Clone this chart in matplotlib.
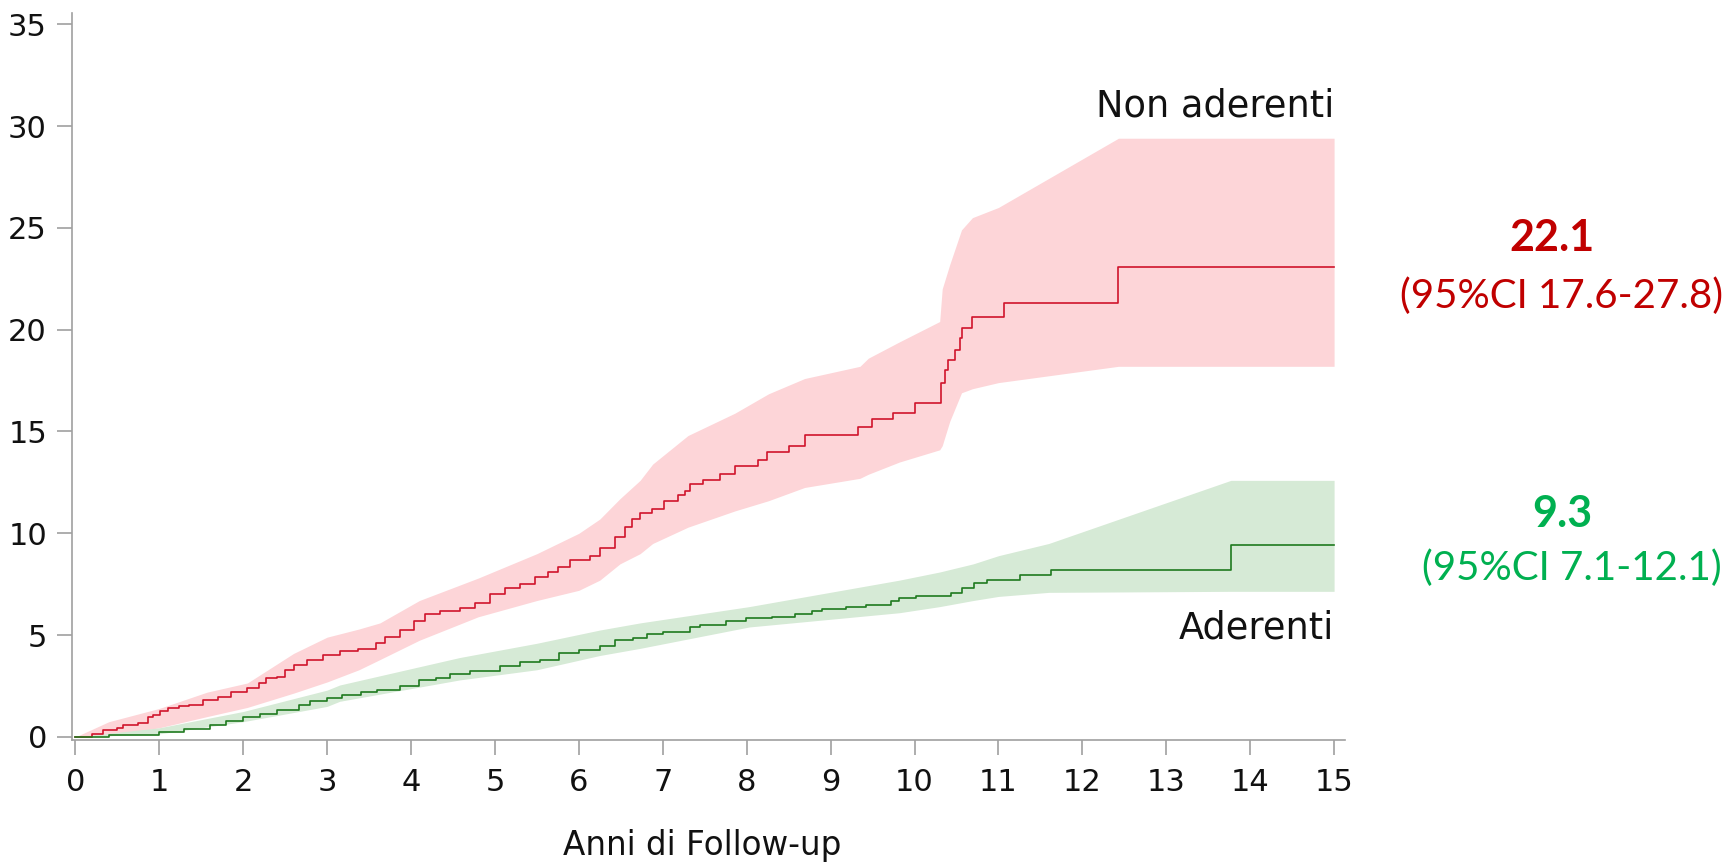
import numpy as np
import matplotlib.pyplot as plt

# Non aderenti: step curve (time, cumulative %)
red_t = [0, 0.2, 0.33, 0.5, 0.57, 0.75, 0.86, 0.93, 1.01, 1.1, 1.23, 1.35, 1.52, 1.7,
         1.85, 2.04, 2.19, 2.27, 2.4, 2.5, 2.6, 2.76, 2.95, 3.15, 3.37, 3.58, 3.69, 3.87,
         4.04, 4.17, 4.35, 4.58, 4.76, 4.94, 5.12, 5.3, 5.48, 5.63, 5.75, 5.89, 6.13,
         6.25, 6.43, 6.55, 6.63, 6.73, 6.87, 7.02, 7.18, 7.26, 7.32, 7.48, 7.68, 7.86,
         8.14, 8.24, 8.51, 8.69, 9.33, 9.49, 9.74, 10.0, 10.31, 10.36, 10.4, 10.48,
         10.54, 10.56, 10.69, 11.07, 12.43, 15.0]
red_v = [0, 0.15, 0.35, 0.45, 0.6, 0.7, 1.0, 1.1, 1.25, 1.4, 1.5, 1.55, 1.8, 1.95,
         2.2, 2.4, 2.65, 2.9, 2.95, 3.3, 3.55, 3.8, 4.0, 4.2, 4.3, 4.6, 4.9, 5.25,
         5.7, 6.05, 6.2, 6.35, 6.6, 7.0, 7.3, 7.5, 7.85, 8.1, 8.35, 8.7, 8.9,
         9.3, 9.8, 10.3, 10.7, 11.0, 11.2, 11.6, 11.9, 12.1, 12.4, 12.6, 12.9, 13.3,
         13.6, 14.0, 14.3, 14.85, 15.2, 15.6, 15.9, 16.4, 17.4, 18.0, 18.5, 19.0,
         19.6, 20.1, 20.6, 21.3, 23.1, 23.1]

# Non aderenti: 95% CI band
red_ci_t = [0, 0.4, 1.0, 1.57, 2.05, 2.6, 3.0, 3.38, 3.63, 4.1, 4.8, 5.5, 6.0, 6.25,
            6.49, 6.73, 6.88, 7.3, 7.86, 8.26, 8.69, 9.35, 9.45, 9.82, 10.3, 10.33,
            10.42, 10.56, 10.69, 11.0, 12.43, 15.0]
red_hi = [0, 0.75, 1.4, 2.2, 2.65, 4.1, 4.9, 5.3, 5.6, 6.7, 7.8, 9.0, 10.0, 10.7,
          11.7, 12.6, 13.4, 14.8, 15.9, 16.85, 17.6, 18.2, 18.6, 19.4, 20.4, 22.0,
          23.2, 24.9, 25.5, 26.0, 29.4, 29.4]
red_lo = [0, 0.05, 0.45, 1.0, 1.45, 2.15, 2.7, 3.3, 3.8, 4.75, 5.9, 6.7, 7.2, 7.7,
          8.5, 9.0, 9.5, 10.3, 11.1, 11.6, 12.25, 12.7, 12.9, 13.5, 14.1, 14.3,
          15.5, 16.9, 17.1, 17.4, 18.2, 18.2]

# Aderenti: step curve
green_t = [0, 0.4, 1.0, 1.3, 1.6, 1.8, 2.0, 2.2, 2.4, 2.67, 2.8, 3.0, 3.18, 3.4, 3.6,
           3.87, 4.1, 4.3, 4.46, 4.7, 5.06, 5.3, 5.54, 5.76, 6.0, 6.25, 6.43, 6.64,
           6.81, 7.0, 7.32, 7.44, 7.75, 7.99, 8.3, 8.58, 8.78, 8.9, 9.18, 9.42, 9.72,
           9.82, 10.02, 10.44, 10.57, 10.71, 10.86, 11.26, 11.63, 13.77, 15.0]
green_v = [0, 0.1, 0.25, 0.4, 0.6, 0.8, 1.0, 1.15, 1.3, 1.55, 1.75, 1.9, 2.05, 2.2, 2.3,
           2.5, 2.8, 2.9, 3.1, 3.25, 3.5, 3.7, 3.8, 4.1, 4.25, 4.45, 4.75, 4.85,
           5.05, 5.15, 5.4, 5.5, 5.7, 5.85, 5.9, 6.05, 6.2, 6.3, 6.4, 6.5, 6.7,
           6.8, 6.9, 7.05, 7.3, 7.55, 7.7, 7.95, 8.2, 9.45, 9.45]

# Aderenti: 95% CI band
green_ci_t = [0, 1.0, 2.0, 3.0, 3.15, 4.58, 5.5, 6.25, 6.73, 8.03, 9.82, 10.3, 10.7,
              11.0, 11.6, 13.77, 15.0]
green_hi = [0, 0.45, 1.25, 2.3, 2.55, 3.9, 4.6, 5.25, 5.6, 6.4, 7.7, 8.1, 8.5,
            8.9, 9.5, 12.6, 12.6]
green_lo = [0, 0.15, 0.75, 1.5, 1.75, 2.8, 3.3, 4.0, 4.35, 5.4, 6.1, 6.4, 6.7,
            6.9, 7.1, 7.15, 7.15]

x_ticks = list(range(0, 16))
y_ticks = [0, 5, 10, 15, 20, 25, 30, 35]

fig = plt.figure(figsize=(17.29, 8.64), dpi=100)
ax = fig.add_axes([72 / 1729, 1 - 740 / 864, (1345 - 72) / 1729, (740 - 13) / 864])

ax.fill_between(red_ci_t, red_lo, red_hi, color='#fdd5d8', lw=0)
ax.fill_between(green_ci_t, green_lo, green_hi, color='#d6ead6', lw=0)
ax.step(red_t, red_v, where='post', color='#d0142c', lw=1.2)
ax.step(green_t, green_v, where='post', color='#1f7a1f', lw=1.2)

ax.set_xlim(-0.04, 15.13)
ax.set_ylim(-0.15, 35.55)
ax.set_xticks(x_ticks)
ax.set_yticks(y_ticks)
for s in ['top', 'right']:
    ax.spines[s].set_visible(False)
for s in ['left', 'bottom']:
    ax.spines[s].set_color('#a0a0a0')
    ax.spines[s].set_linewidth(1.2)
ax.tick_params(axis='both', colors='#a0a0a0', labelcolor='#111111',
               labelsize=22, length=11, width=1.2)
ax.tick_params(axis='x', pad=9)
ax.tick_params(axis='y', pad=7)

ax.text(15.0, 31.0, 'Non aderenti', ha='right', va='center', fontsize=26.5, color='#111111')
ax.text(15.0, 5.35, 'Aderenti', ha='right', va='center', fontsize=26.5, color='#111111')

fig.text(702 / 1729, 1 - 846 / 864, 'Anni di Follow-up', ha='center', va='center',
         fontsize=23.5, color='#111111')

fig.text(1552 / 1729, 1 - 238 / 864, '22.1', ha='center', va='center', fontsize=31,
         fontweight='bold', color='#c00000', family='Lato')
fig.text(1562 / 1729, 1 - 296 / 864, '(95%CI 17.6-27.8)', ha='center', va='center',
         fontsize=29, color='#c00000', family='Lato')
fig.text(1562 / 1729, 1 - 514 / 864, '9.3', ha='center', va='center', fontsize=31,
         fontweight='bold', color='#00b050', family='Lato')
fig.text(1572 / 1729, 1 - 568 / 864, '(95%CI 7.1-12.1)', ha='center', va='center',
         fontsize=29, color='#00b050', family='Lato')

fig.savefig('out.png', dpi=100)
